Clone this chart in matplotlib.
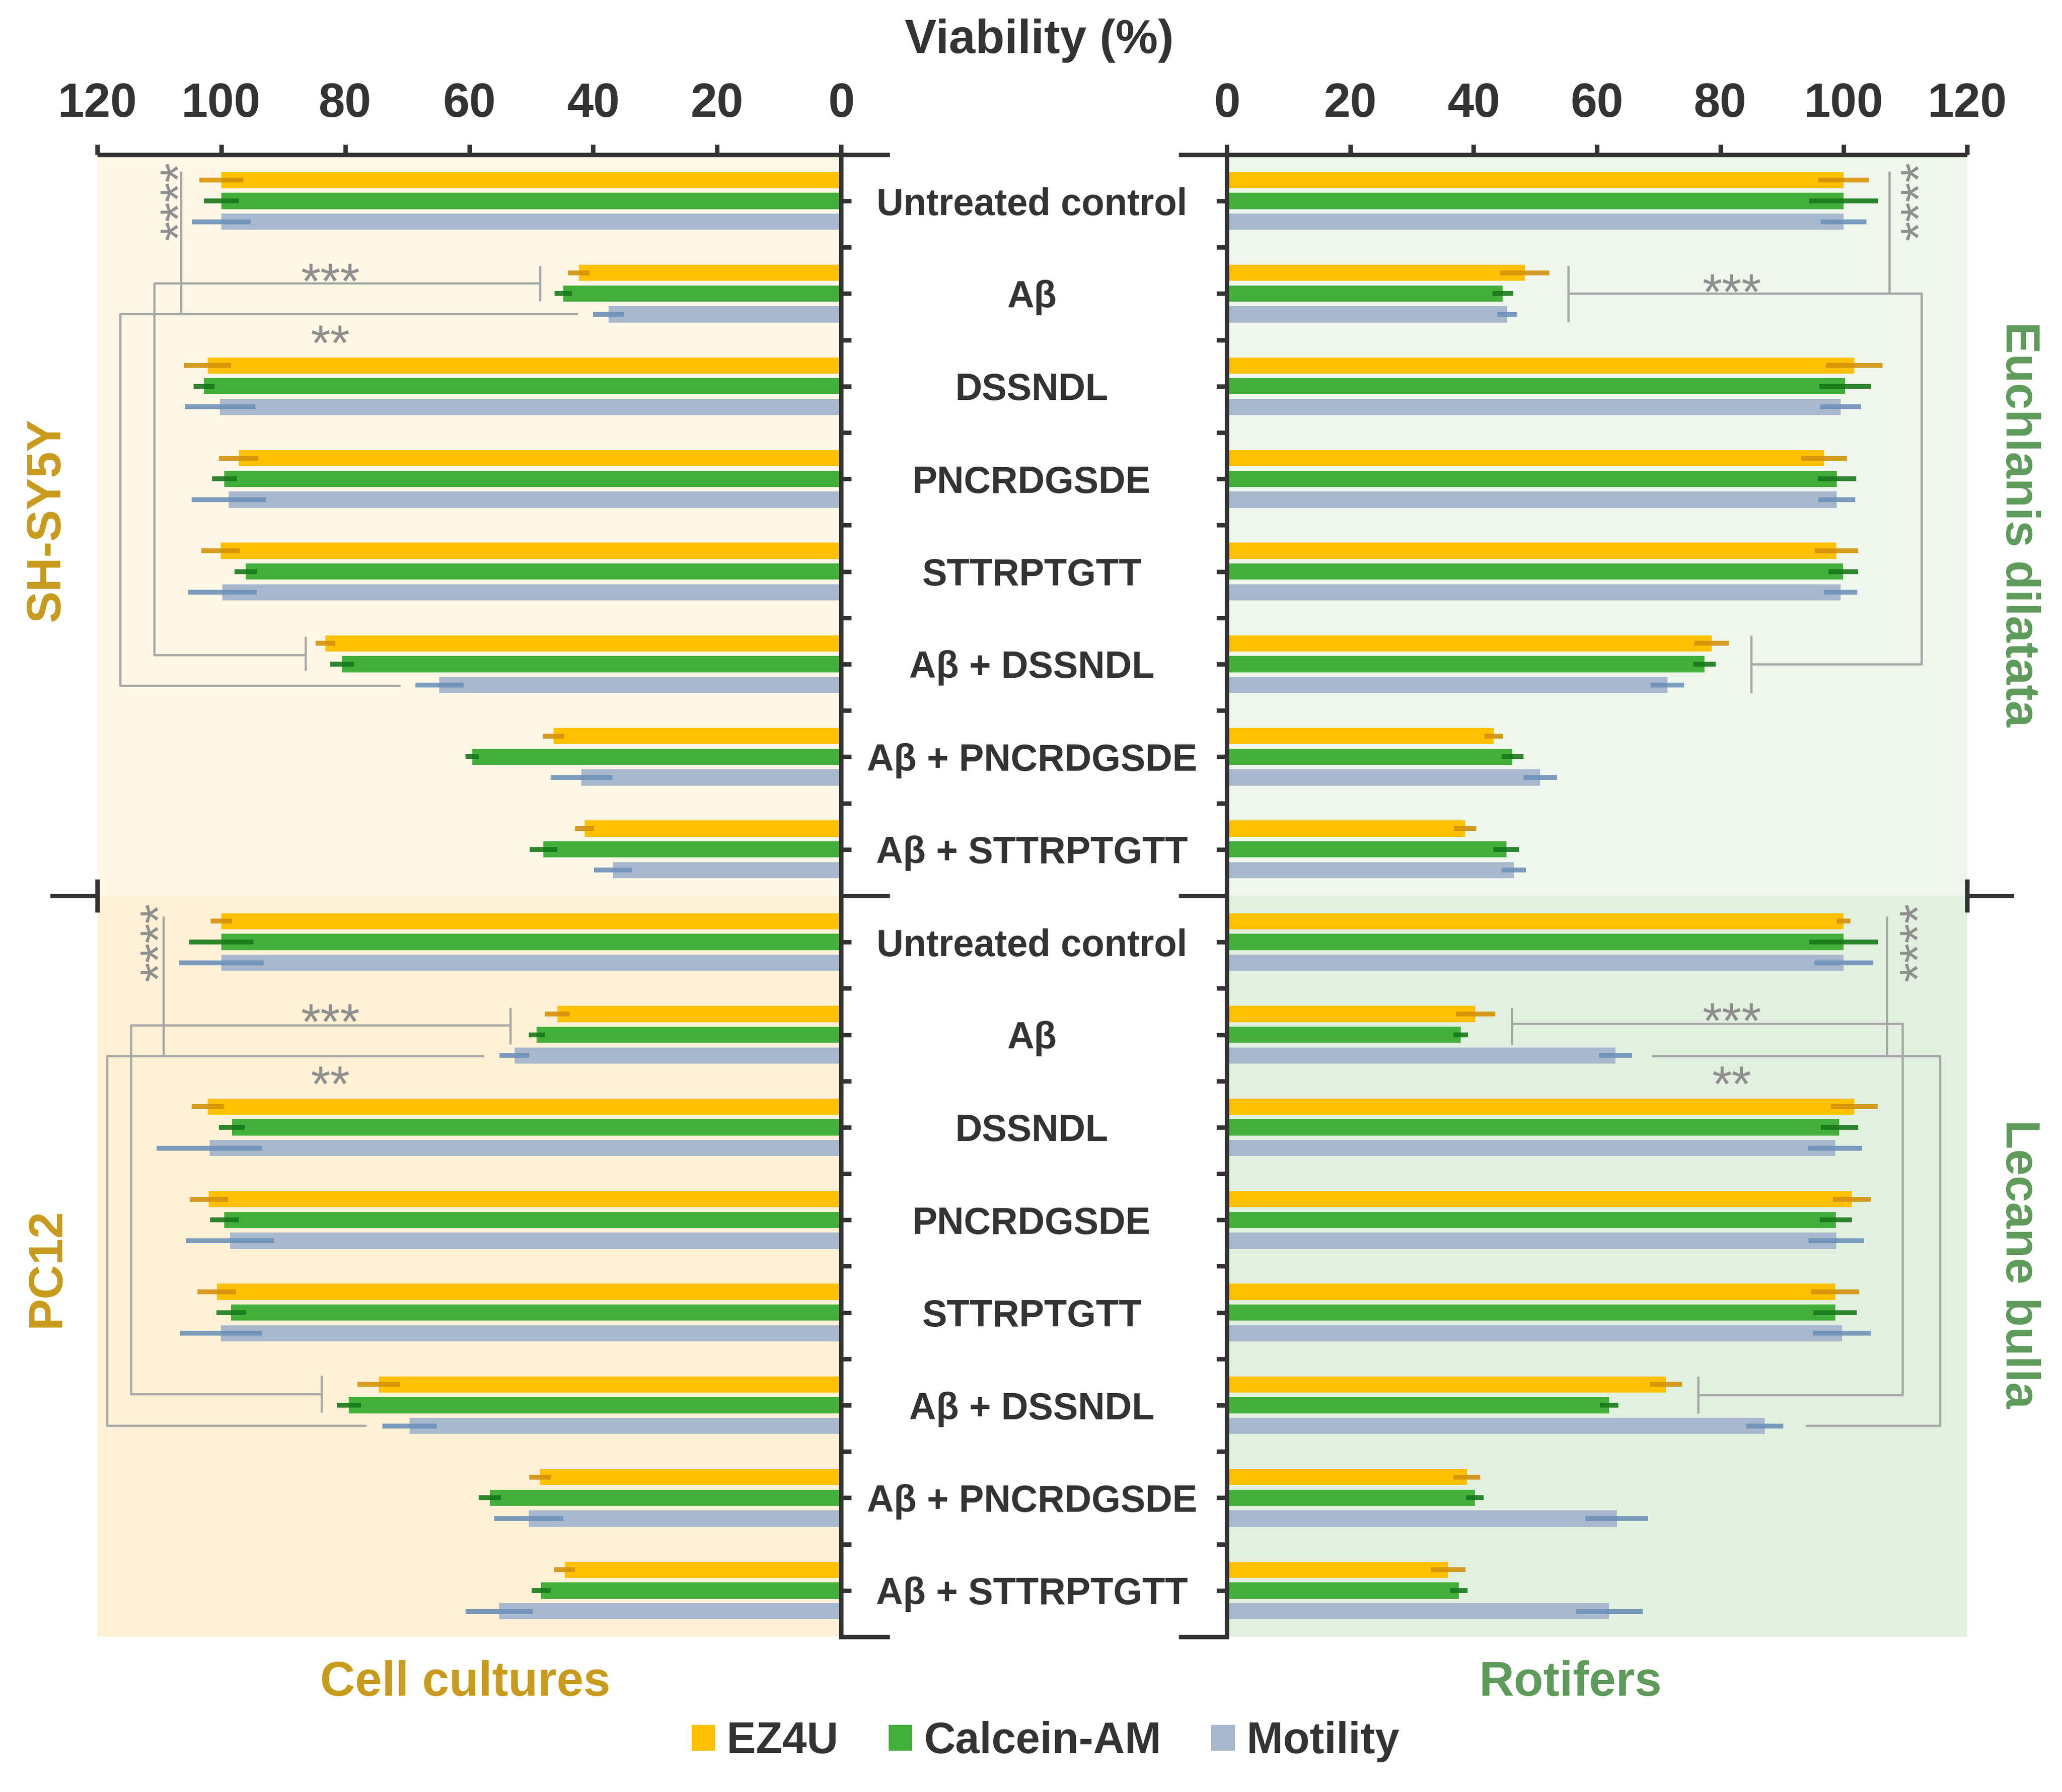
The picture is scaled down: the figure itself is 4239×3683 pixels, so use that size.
import numpy as np
import matplotlib
matplotlib.use('Agg')
import matplotlib.pyplot as plt
from matplotlib.patches import Patch

plt.rcParams['font.family'] = ['Liberation Sans', 'DejaVu Sans']

categories = ['Untreated control', 'Aβ', 'DSSNDL', 'PNCRDGSDE', 'STTRPTGTT',
              'Aβ + DSSNDL', 'Aβ + PNCRDGSDE', 'Aβ + STTRPTGTT']
series_names = ['EZ4U', 'Calcein-AM', 'Motility']

# cell cultures (left side)
shsy_ez4u = [100, 42.3, 102.2, 97.2, 100.1, 83.2, 46.4, 41.4]
shsy_ez4u_err = [3.5, 1.7, 3.8, 3.2, 3.1, 1.6, 1.7, 1.5]
shsy_calcein = [100, 44.8, 102.8, 99.5, 96.1, 80.5, 59.5, 48.0]
shsy_calcein_err = [2.8, 1.4, 1.7, 2.0, 1.8, 1.9, 1.1, 2.2]
shsy_motility = [100, 37.5, 100.2, 98.8, 99.8, 64.8, 41.9, 36.8]
shsy_motility_err = [4.7, 2.5, 5.7, 6.0, 5.5, 3.9, 5.0, 3.1]

pc12_ez4u = [100, 45.8, 102.2, 102.0, 100.7, 74.6, 48.6, 44.6]
pc12_ez4u_err = [1.7, 2.0, 2.6, 3.1, 3.1, 3.4, 1.7, 1.7]
pc12_calcein = [100, 49.1, 98.3, 99.5, 98.4, 79.4, 56.7, 48.4]
pc12_calcein_err = [5.2, 1.3, 2.1, 2.3, 2.4, 1.9, 1.8, 1.5]
pc12_motility = [100, 52.7, 101.9, 98.6, 100.1, 69.6, 50.4, 55.2]
pc12_motility_err = [6.8, 2.4, 8.5, 7.1, 6.6, 4.4, 5.6, 5.4]

# rotifers (right side)
eucl_ez4u = [100, 48.3, 101.7, 96.8, 98.8, 78.6, 43.3, 38.6]
eucl_ez4u_err = [4.1, 4.0, 4.6, 3.7, 3.5, 2.8, 1.5, 1.8]
eucl_calcein = [100, 44.7, 100.2, 98.9, 99.9, 77.4, 46.3, 45.3]
eucl_calcein_err = [5.6, 1.7, 4.2, 3.1, 2.4, 1.8, 1.8, 2.1]
eucl_motility = [100, 45.4, 99.5, 98.9, 99.5, 71.4, 50.8, 46.5]
eucl_motility_err = [3.7, 1.6, 3.3, 3.0, 2.7, 2.7, 2.7, 2.0]

lec_ez4u = [100, 40.3, 101.7, 101.3, 98.6, 71.2, 38.9, 35.9]
lec_ez4u_err = [1.1, 3.2, 3.8, 3.1, 3.9, 2.6, 2.2, 2.8]
lec_calcein = [100, 37.9, 99.3, 98.7, 98.6, 62.0, 40.2, 37.6]
lec_calcein_err = [5.6, 1.2, 3.0, 2.6, 3.5, 1.5, 1.4, 1.4]
lec_motility = [100, 63.0, 98.6, 98.8, 99.7, 87.2, 63.2, 62.0]
lec_motility_err = [4.8, 2.7, 4.4, 4.5, 4.7, 3.0, 5.1, 5.4]

xticks = [0, 20, 40, 60, 80, 100, 120]

bar_colors = ['#FFC000', '#43AF3B', '#A8B8CD']
err_colors = ['#D4920C', '#17791A', '#6E92BA']
axis_c = '#333333'
gold = '#C99B1C'
green = '#5E9B5A'
sig_line = '#A8A8A8'
sig_text = '#8E8E8E'

W, H = 4239, 3683
fig = plt.figure(figsize=(W / 300, H / 300), dpi=300)
ax_l = fig.add_axes([0.0472, 0.0866, 0.3607, 0.8271])
ax_r = fig.add_axes([0.5950, 0.0866, 0.3590, 0.8271])

offsets = [-0.224, 0.0, 0.224]
bar_h = 0.175


def draw_side(ax, panels, bgs, left):
    for p, (vals, errs) in enumerate(panels):
        base = np.arange(len(categories)) + 8 * p
        for k in range(3):
            y = base + offsets[k]
            ax.barh(y, vals[k], height=bar_h, color=bar_colors[k], lw=0, zorder=2)
            ax.errorbar(vals[k], y, xerr=errs[k], fmt='none', ecolor=err_colors[k],
                        elinewidth=2.4, capsize=0, alpha=0.9, zorder=3)
    ax.axhspan(-0.5, 7.5, color=bgs[0], lw=0, zorder=0)
    ax.axhspan(7.5, 15.5, color=bgs[1], lw=0, zorder=0)
    ax.set_ylim(15.5, -0.5)
    if left:
        ax.set_xlim(120, 0)
    else:
        ax.set_xlim(0, 120)
    for s in ['top', 'bottom', 'left', 'right']:
        ax.spines[s].set_visible(False)
    inner = 'right' if left else 'left'
    ax.spines[inner].set_visible(True)
    ax.spines[inner].set_color(axis_c)
    ax.spines[inner].set_linewidth(2.2)
    ax.xaxis.tick_top()
    ax.set_xticks(xticks)
    ax.set_xticklabels([str(t) for t in xticks], fontsize=23.5, fontweight='bold', color=axis_c)
    ax.tick_params(axis='x', which='both', direction='out', length=5, width=2.2,
                   color=axis_c, pad=9, bottom=False, top=True)
    if left:
        ax.yaxis.tick_right()
    ax.set_yticks(range(16))
    ax.set_yticks([k + 0.5 for k in range(15) if k != 7], minor=True)
    ax.tick_params(axis='y', which='both', direction='out', length=5, width=2.2,
                   color=axis_c, labelleft=False, labelright=False)
    ext = -7.85
    kw = dict(color=axis_c, lw=2.2, clip_on=False, zorder=5, solid_capstyle='butt')
    ax.plot([120, ext], [-0.5, -0.5], **kw)
    ax.plot([0, ext], [15.5, 15.5], **kw)
    ax.plot([0, ext], [7.5, 7.5], **kw)
    ax.plot([120, 127.6], [7.5, 7.5], **kw)
    ax.plot([120, 120], [7.32, 7.68], **kw)


draw_side(ax_l,
          [((shsy_ez4u, shsy_calcein, shsy_motility),
            (shsy_ez4u_err, shsy_calcein_err, shsy_motility_err)),
           ((pc12_ez4u, pc12_calcein, pc12_motility),
            (pc12_ez4u_err, pc12_calcein_err, pc12_motility_err))],
          ['#FFF7E5', '#FFF1D5'], True)
draw_side(ax_r,
          [((eucl_ez4u, eucl_calcein, eucl_motility),
            (eucl_ez4u_err, eucl_calcein_err, eucl_motility_err)),
           ((lec_ez4u, lec_calcein, lec_motility),
            (lec_ez4u_err, lec_calcein_err, lec_motility_err))],
          ['#EFF6EC', '#E2F0DF'], False)


def line(ax, pts):
    xs, ys = zip(*pts)
    ax.plot(xs, ys, color=sig_line, lw=1.1, zorder=4, solid_capstyle='butt')


def stars(ax, s, x, y, vertical=False):
    fs = 25
    if vertical:
        ax.annotate(s, (x, y), xytext=(0.58 * fs, 0), textcoords='offset points',
                    rotation=90, rotation_mode='anchor', ha='center', va='baseline',
                    fontsize=fs, color=sig_text, zorder=4)
    else:
        ax.annotate(s, (x, y), xytext=(0, -0.58 * fs), textcoords='offset points',
                    ha='center', va='baseline', fontsize=fs, color=sig_text, zorder=4)


# SH-SY5Y
line(ax_l, [(106.5, -0.32), (106.5, 1.22)])
line(ax_l, [(42.5, 1.22), (116.3, 1.22), (116.3, 5.23), (71.1, 5.23)])
line(ax_l, [(48.6, 0.70), (48.6, 1.08)])
line(ax_l, [(48.6, 0.885), (110.8, 0.885), (110.8, 4.90), (86.4, 4.90)])
line(ax_l, [(86.4, 4.70), (86.4, 5.07)])
stars(ax_l, '****', 109.0, 0.0, True)
stars(ax_l, '***', 82.4, 0.735)
stars(ax_l, '**', 82.4, 1.40)

# PC12
line(ax_l, [(109.3, 7.72), (109.3, 9.23)])
line(ax_l, [(57.6, 9.23), (118.4, 9.23), (118.4, 13.22), (76.6, 13.22)])
line(ax_l, [(53.4, 8.71), (53.4, 9.10)])
line(ax_l, [(53.4, 8.895), (114.6, 8.895), (114.6, 12.88), (83.8, 12.88)])
line(ax_l, [(83.8, 12.68), (83.8, 13.08)])
stars(ax_l, '****', 112.2, 8.0, True)
stars(ax_l, '***', 82.4, 8.73)
stars(ax_l, '**', 82.4, 9.40)

# Euchlanis dilatata
line(ax_r, [(107.4, -0.32), (107.4, 1.0)])
line(ax_r, [(55.3, 0.70), (55.3, 1.31)])
line(ax_r, [(55.3, 1.0), (112.6, 1.0), (112.6, 5.0), (85.0, 5.0)])
line(ax_r, [(85.0, 4.69), (85.0, 5.31)])
stars(ax_r, '****', 110.1, 0.0, True)
stars(ax_r, '***', 81.8, 0.85)

# Lecane bulla
line(ax_r, [(107.0, 7.72), (107.0, 9.23)])
line(ax_r, [(46.2, 8.71), (46.2, 9.11)])
line(ax_r, [(46.2, 8.88), (109.5, 8.88), (109.5, 12.89), (76.4, 12.89)])
line(ax_r, [(76.4, 12.69), (76.4, 13.09)])
line(ax_r, [(68.8, 9.23), (115.6, 9.23), (115.6, 13.22), (93.8, 13.22)])
stars(ax_r, '****', 109.9, 8.0, True)
stars(ax_r, '***', 81.8, 8.72)
stars(ax_r, '**', 81.8, 9.40)

# category labels between the two panels
for p in range(2):
    for i, c in enumerate(categories):
        ax_l.annotate(c, (0.5004, i + 8 * p), xycoords=('figure fraction', 'data'),
                      ha='center', va='center_baseline', fontsize=18.4,
                      fontweight='bold', color=axis_c, annotation_clip=False)

fig.text(0.504, 0.980, 'Viability (%)', ha='center', va='center_baseline',
         fontsize=23.5, fontweight='bold', color=axis_c)
fig.text(0.2256, 0.0636, 'Cell cultures', ha='center', va='center_baseline',
         fontsize=23.9, fontweight='bold', color=gold)
fig.text(0.7615, 0.0636, 'Rotifers', ha='center', va='center_baseline',
         fontsize=23.9, fontweight='bold', color=green)
fig.text(0.0229, 0.710, 'SH-SY5Y', rotation=90, ha='center', va='center',
         fontsize=23.5, fontweight='bold', color=gold)
fig.text(0.0229, 0.2924, 'PC12', rotation=90, ha='center', va='center',
         fontsize=23.5, fontweight='bold', color=gold)
fig.text(0.979, 0.7075, 'Euchlanis dilatata', rotation=-90, ha='center', va='center',
         fontsize=23.5, fontweight='bold', color=green)
fig.text(0.979, 0.2946, 'Lecane bulla', rotation=-90, ha='center', va='center',
         fontsize=23.5, fontweight='bold', color=green)

handles = [Patch(facecolor=c, edgecolor='none') for c in bar_colors]
fig.legend(handles, series_names, loc='center', bbox_to_anchor=(0.507, 0.028), ncol=3,
           frameon=False, handlelength=0.54, handleheight=0.54, handletextpad=0.27,
           columnspacing=1.15, prop={'weight': 'bold', 'size': 21.5}, labelcolor=axis_c)

fig.savefig('out.png', dpi=300)
